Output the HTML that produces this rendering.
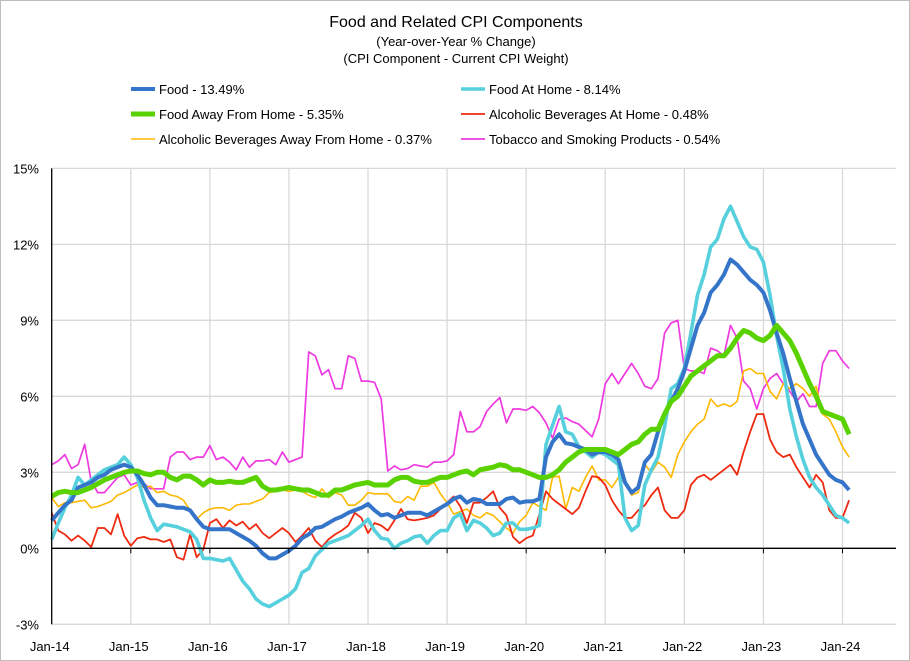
<!DOCTYPE html>
<html><head><meta charset="utf-8"><style>
body{margin:0;background:#fff;}
#wrap{position:relative;width:908px;height:659px;border:1px solid #bdbdbd;background:#fff;overflow:hidden;font-family:"Liberation Sans",sans-serif;}
</style></head><body>
<div id="wrap">
<svg id="chart" width="908" height="659" xmlns="http://www.w3.org/2000/svg">
<text x="455" y="26" text-anchor="middle" font-size="16" fill="#000">Food and Related CPI Components</text>
<text x="455" y="45" text-anchor="middle" font-size="13" fill="#000">(Year-over-Year % Change)</text>
<text x="455" y="62" text-anchor="middle" font-size="13" fill="#000">(CPI Component - Current CPI Weight)</text>
<g id="grid"></g><g id="series"></g><g id="axes"></g><g id="legend"></g>
</svg>
</div>
<script>
const tickLabelsX = ["Jan-14","Jan-15","Jan-16","Jan-17","Jan-18","Jan-19","Jan-20","Jan-21","Jan-22","Jan-23","Jan-24"];
const tickValuesY = [-3,0,3,6,9,12,15];
const food = [1.1,1.4,1.7,1.9,2.4,2.5,2.6,2.8,2.9,3.1,3.2,3.3,
3.2,2.9,2.5,2.0,1.7,1.7,1.65,1.6,1.6,1.5,1.15,0.85,
0.75,0.75,0.75,0.75,0.6,0.45,0.3,0.1,-0.2,-0.4,-0.4,-0.25,
-0.1,0.1,0.4,0.55,0.8,0.85,1.0,1.15,1.25,1.4,1.5,1.6,
1.75,1.5,1.3,1.35,1.2,1.3,1.4,1.4,1.4,1.3,1.45,1.6,
1.75,1.95,2.05,1.8,1.95,1.9,1.75,1.75,1.75,1.95,2.0,1.8,
1.85,1.85,1.95,3.6,4.2,4.5,4.15,4.1,4.0,3.9,3.7,3.8,
3.8,3.7,3.5,2.6,2.2,2.4,3.4,3.7,4.6,5.3,5.8,6.3,
7.0,7.9,8.8,9.3,10.1,10.4,10.8,11.4,11.2,10.9,10.6,10.4,
10.1,9.4,8.5,7.7,6.7,5.8,4.9,4.3,3.7,3.3,2.9,2.7,
2.6,2.3];
const foodAtHome = [0.35,1.0,1.6,2.1,2.8,2.5,2.7,2.9,3.1,3.2,3.3,3.6,
3.3,2.8,1.9,1.2,0.7,0.95,0.9,0.85,0.75,0.65,0.35,-0.4,
-0.4,-0.45,-0.5,-0.4,-0.85,-1.3,-1.6,-2.0,-2.2,-2.3,-2.15,-2.0,
-1.85,-1.6,-0.95,-0.8,-0.3,-0.05,0.2,0.3,0.4,0.5,0.7,0.9,
1.15,0.7,0.4,0.35,0.0,0.2,0.3,0.45,0.5,0.2,0.5,0.7,
0.7,1.2,1.35,0.7,1.1,1.0,0.8,0.5,0.6,1.0,1.0,0.75,
0.75,0.8,0.9,4.1,4.85,5.6,4.6,4.5,4.0,3.8,3.6,3.8,
3.7,3.5,3.3,1.2,0.7,0.9,2.5,3.1,3.6,4.8,6.3,6.5,
7.1,8.5,10.0,10.8,11.9,12.2,13.0,13.5,12.9,12.3,11.9,11.8,
11.3,10.0,8.4,7.1,5.5,4.4,3.5,2.8,2.4,2.1,1.7,1.3,
1.2,1.0];
const foodAway = [2.05,2.2,2.25,2.2,2.2,2.3,2.4,2.55,2.7,2.8,2.9,3.0,
3.05,3.05,2.95,2.9,3.0,3.0,2.8,2.7,2.85,2.85,2.7,2.5,
2.7,2.6,2.6,2.65,2.6,2.6,2.7,2.8,2.45,2.3,2.3,2.35,
2.4,2.35,2.3,2.3,2.2,2.1,2.1,2.3,2.3,2.4,2.5,2.55,
2.6,2.5,2.5,2.5,2.7,2.8,2.8,2.65,2.6,2.6,2.7,2.8,
2.8,2.9,3.0,3.05,2.9,3.1,3.15,3.2,3.3,3.25,3.1,3.1,
3.0,2.9,2.8,2.8,2.9,3.1,3.4,3.6,3.8,3.9,3.9,3.9,
3.9,3.8,3.7,3.9,4.1,4.2,4.5,4.7,4.7,5.3,5.8,6.0,
6.4,6.8,7.0,7.2,7.4,7.6,7.6,7.9,8.3,8.6,8.5,8.3,
8.2,8.4,8.8,8.5,8.2,7.7,7.1,6.5,6.0,5.4,5.3,5.2,
5.1,4.5];
const alcHome = [1.4,0.7,0.55,0.3,0.5,0.3,0.05,0.8,0.8,0.55,1.35,0.5,
0.1,0.4,0.45,0.35,0.35,0.25,0.35,-0.35,-0.45,0.55,-0.35,-0.05,
1.0,1.15,0.8,1.1,0.9,1.05,0.75,0.95,0.6,0.4,0.6,0.8,
0.6,0.25,0.5,0.8,0.3,0.05,0.35,0.55,0.7,0.9,1.4,1.2,
0.6,1.0,0.9,0.7,1.1,1.55,1.15,1.1,1.15,1.2,1.3,1.55,
1.8,2.05,1.65,1.0,1.8,1.8,2.0,2.25,1.6,1.3,0.45,0.2,
0.4,0.5,1.35,2.25,1.95,1.75,1.55,1.35,1.6,2.25,2.85,2.8,
2.5,1.9,1.5,1.2,1.2,1.5,1.7,2.1,2.4,1.5,1.2,1.2,
1.5,2.5,2.8,2.9,2.7,2.9,3.1,3.3,2.9,3.8,4.6,5.3,
5.3,4.3,3.8,3.6,3.7,3.2,2.8,2.4,2.9,2.6,1.5,1.2,
1.2,1.9];
const alcAway = [2.0,1.65,1.8,1.8,1.85,1.9,1.6,1.65,1.75,1.85,2.1,2.2,
2.35,2.5,2.4,2.45,2.2,2.25,2.1,2.05,1.9,1.5,1.15,1.4,
1.55,1.6,1.6,1.5,1.7,1.75,1.75,1.85,1.95,2.2,2.25,2.3,
2.25,2.3,2.25,2.1,2.0,2.35,2.0,2.2,2.1,1.7,1.7,1.9,
2.2,2.15,2.15,2.15,1.85,1.8,2.05,1.9,2.45,2.45,2.6,2.15,
1.8,1.35,1.45,1.55,1.3,1.2,1.4,1.3,1.05,0.8,0.6,1.05,
1.3,1.8,1.65,1.5,2.8,2.85,1.55,2.4,2.25,2.8,3.25,2.7,
2.7,2.4,2.8,2.6,2.1,2.2,3.3,3.0,3.4,3.2,2.8,3.7,
4.2,4.6,4.9,5.1,5.9,5.6,5.7,5.6,5.8,7.0,7.1,6.9,
6.9,6.2,5.9,6.5,6.3,6.5,6.3,6.0,6.4,5.3,5.1,4.6,
4.0,3.6];
const tobacco = [3.3,3.45,3.7,3.15,3.3,4.1,2.65,2.2,2.2,2.5,2.8,2.9,
2.5,2.6,2.55,2.35,2.35,2.35,3.6,3.8,3.8,3.5,3.6,3.6,
4.05,3.5,3.6,3.4,3.1,3.6,3.2,3.45,3.45,3.5,3.3,3.8,
3.4,3.5,3.6,7.75,7.6,6.85,7.05,6.3,6.3,7.6,7.5,6.6,
6.6,6.55,5.9,3.05,3.25,3.1,3.15,3.3,3.25,3.2,3.4,3.4,
3.45,3.7,5.4,4.6,4.6,4.8,5.4,5.7,5.95,4.95,5.5,5.5,
5.45,5.6,5.35,4.95,4.35,5.1,5.15,5.0,4.9,4.65,4.4,5.1,
6.5,6.9,6.5,6.9,7.3,6.9,6.4,6.3,6.7,8.5,8.9,9.0,
7.1,7.0,7.0,6.9,7.9,7.8,7.6,8.8,8.3,6.6,6.3,5.5,
6.3,6.7,6.9,6.5,6.2,5.8,6.1,5.6,5.6,7.3,7.8,7.8,
7.4,7.1];

const NS="http://www.w3.org/2000/svg";
const X0=50.7, MSTEP=6.59, Y0=547.3, YSTEP=25.33, RIGHT=895;
function xScale(i){return X0+i*MSTEP;}
function yScale(v){return Y0-v*YSTEP;}
function mk(tag,attrs,parent){const e=document.createElementNS(NS,tag);for(const k in attrs)e.setAttribute(k,attrs[k]);parent.appendChild(e);return e;}
const grid=document.getElementById('grid'), axes=document.getElementById('axes'), ser=document.getElementById('series'), leg=document.getElementById('legend');
tickValuesY.forEach(v=>{
  const y=yScale(v);
  if(v!==0){const l=mk('line',{x1:X0,x2:RIGHT,y1:y,y2:y,stroke:'#d9d9d9','stroke-width':1.3},grid);
  
  }
  const t=mk('text',{x:38,y:y+5,'text-anchor':'end','font-size':13,fill:'#000'},axes);
  t.textContent=v+'%';
  
  
});
tickLabelsX.forEach((lab,j)=>{
  const x=xScale(j*12);
  if(j>0){const l=mk('line',{x1:x,x2:x,y1:yScale(15),y2:yScale(-3),stroke:'#d9d9d9','stroke-width':1.3},grid);
  
  
  const tk=mk('line',{x1:x,x2:x,y1:Y0,y2:Y0+5,stroke:'#000','stroke-width':1},axes);
  
  }
  const t=mk('text',{x:x-2,y:650,'text-anchor':'middle','font-size':13,fill:'#000'},axes);
  t.textContent=lab;
  
  
});
const ax=mk('line',{x1:X0,x2:RIGHT,y1:Y0,y2:Y0,stroke:'#000','stroke-width':1.3},axes);


const ay=mk('line',{x1:X0,x2:X0,y1:yScale(15),y2:yScale(-3),stroke:'#000','stroke-width':1.3},axes);



const seriesDefs=[
 {d:tobacco,c:'#ee3ae0',w:1.7,n:'tobacco-line'},
 {d:alcAway,c:'#ffb800',w:1.6,n:'alcoholic-beverages-away-line'},
 {d:alcHome,c:'#ee2a10',w:1.8,n:'alcoholic-beverages-home-line'},
 {d:foodAtHome,c:'#56d0dc',w:3.6,n:'food-at-home-line'},
 {d:food,c:'#3575c9',w:4,n:'food-line'},
 {d:foodAway,c:'#5ad200',w:5,n:'food-away-from-home-line'}
];
seriesDefs.forEach(s=>{
  const pts=s.d.map((v,i)=>xScale(i).toFixed(1)+','+yScale(v).toFixed(1)).join(' ');
  const p=mk('polyline',{points:pts,fill:'none',stroke:s.c,'stroke-width':s.w,'stroke-linejoin':'round'},ser);
  
  
});

const legendItems=[
 {x:130,y:88,c:'#3575c9',w:4,t:'Food - 13.49%'},
 {x:460,y:88,c:'#56d0dc',w:3.6,t:'Food At Home - 8.14%'},
 {x:130,y:113,c:'#5ad200',w:5,t:'Food Away From Home - 5.35%'},
 {x:460,y:113,c:'#ee2a10',w:1.8,t:'Alcoholic Beverages At Home - 0.48%'},
 {x:130,y:138,c:'#ffb800',w:1.6,t:'Alcoholic Beverages Away From Home - 0.37%'},
 {x:460,y:138,c:'#ee3ae0',w:1.7,t:'Tobacco and Smoking Products - 0.54%'}
];
legendItems.forEach(it=>{
  const g=mk('g',{},leg);
  
  
  mk('line',{x1:it.x,x2:it.x+24,y1:it.y,y2:it.y,stroke:it.c,'stroke-width':it.w},g);
  const t=mk('text',{x:it.x+28,y:it.y+5,'font-size':13,fill:'#000'},g);
  t.textContent=it.t;
});
</script>
</body></html>
